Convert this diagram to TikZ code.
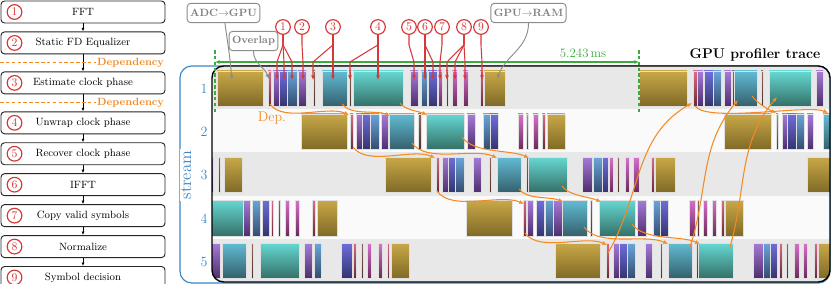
\documentclass[tikz,border=0pt]{standalone}
\usepackage{amsmath}
\usepackage{tikz}
\usetikzlibrary{arrows.meta,positioning,calc}

\definecolor{numred}{HTML}{D63838}
\definecolor{deporange}{HTML}{F48A24}
\definecolor{streamblue}{HTML}{3A86C6}
\definecolor{durgreen}{HTML}{3CAA3C}
\definecolor{rowgrey}{HTML}{E8E8E8}
\definecolor{rowlight}{HTML}{FAFAFA}
\definecolor{goldT}{HTML}{C9A848}\definecolor{goldB}{HTML}{806A26}
\definecolor{purpT}{HTML}{A77BD8}\definecolor{purpB}{HTML}{4E2E6E}
\definecolor{bpurT}{HTML}{6E6EDC}\definecolor{bpurB}{HTML}{343472}
\definecolor{steelT}{HTML}{6AA6DA}\definecolor{steelB}{HTML}{344C70}
\definecolor{tblueT}{HTML}{62BCD4}\definecolor{tblueB}{HTML}{34606C}
\definecolor{tealT}{HTML}{66D8D2}\definecolor{tealB}{HTML}{347068}
\definecolor{magT}{HTML}{D870CC}\definecolor{magB}{HTML}{6A2A5A}
\definecolor{pinkT}{HTML}{E06A88}\definecolor{pinkB}{HTML}{6A2838}
\definecolor{brownT}{HTML}{8E6A5C}\definecolor{brownB}{HTML}{4E3028}

\tikzset{
  stage/.style={draw=black!85, line width=0.8pt, rounded corners=3pt, fill=white,
    minimum width=4.92cm, minimum height=0.66cm, font=\small},
  num/.style={circle, draw=numred, text=numred, fill=white, line width=1pt,
    inner sep=0pt, minimum size=0.44cm, font=\normalsize},
  stagearr/.style={-{Latex[length=3pt,width=2.5pt]}, line width=0.6pt},
  deptext/.style={text=deporange, font=\small\bfseries, inner sep=1pt},
  depline/.style={draw=deporange, line width=1pt, dash pattern=on 3pt off 2pt},
  dep/.style={draw=deporange, line width=0.9pt, ->, out=-55, in=155, looseness=0.75},
  wrap/.style={draw=deporange, line width=0.9pt, ->},
  callout/.style={draw=black!45, text=black!50, fill=white, line width=0.8pt,
    rounded corners=3pt, font=\small\bfseries, inner sep=2.5pt, minimum height=0.58cm},
  callarr/.style={draw=black!45, line width=0.8pt, ->},
  kred/.style={draw=numred, line width=0.9pt, ->},
  gdash/.style={draw=durgreen, line width=1pt, dash pattern=on 3pt off 2pt},
  bar/.style={draw=black!12, line width=0.3pt},
  kgold/.style={bar, top color=goldT, bottom color=goldB},
  kpurp/.style={bar, top color=purpT, bottom color=purpB},
  kbpur/.style={bar, top color=bpurT, bottom color=bpurB},
  ksteel/.style={bar, top color=steelT, bottom color=steelB},
  ktblue/.style={bar, top color=tblueT, bottom color=tblueB},
  kteal/.style={bar, top color=tealT, bottom color=tealB},
  kmag/.style={bar, top color=magT, bottom color=magB},
  kpink/.style={bar, top color=pinkT, bottom color=pinkB},
  kbrown/.style={bar, top color=brownT, bottom color=brownB},
}

\begin{document}
\begin{tikzpicture}[x=0.03cm, y=-0.03cm, >={Latex[length=4pt,width=3.5pt]}, every node/.style={font=\small}]
\useasboundingbox (0,0) rectangle (831,284);

% pipeline stages
\node[stage] (fft) at (83,12) {FFT};
\node[stage, below=0.24cm of fft] (sfde) {Static FD Equalizer};
\node[stage, below=0.51cm of sfde] (est) {Estimate clock phase};
\node[stage, below=0.51cm of est] (unw) {Unwrap clock phase};
\node[stage, below=0.24cm of unw] (rec) {Recover clock phase};
\node[stage, below=0.24cm of rec] (ifft) {IFFT};
\node[stage, below=0.24cm of ifft] (copy) {Copy valid symbols};
\node[stage, below=0.24cm of copy] (norm) {Normalize};
\node[stage, below=0.24cm of norm] (dec) {Symbol decision};

\foreach \s [count=\i] in {fft,sfde,est,unw,rec,ifft,copy,norm,dec}
  \node[num] (n\i) at ([xshift=0.42cm]\s.west) {\i};
\foreach \a/\b in {fft/sfde,sfde/est,est/unw,unw/rec,rec/ifft,ifft/copy,copy/norm,norm/dec}
  \draw[stagearr] (\a) -- (\b);

\coordinate (lft) at (0,0);
\coordinate (dep1) at ($(sfde.south)!0.5!(est.north)$);
\coordinate (dep2) at ($(est.south)!0.5!(unw.north)$);
\node[deptext, anchor=east] (dl1) at (dep1 -| sfde.east) {Dependency};
\node[deptext, anchor=east] (dl2) at (dep2 -| est.east) {Dependency};
\draw[depline] (dep1 -| lft) -- (dl1.west);
\draw[depline] (dep2 -| lft) -- (dl2.west);

% streams
\draw[streamblue, line width=1pt, rounded corners=10pt] (180,66) rectangle (830,283);
\node[text=streamblue, font=\Large, fill=white, inner sep=1pt, rotate=90] (stream) at (186,175) {stream};
\foreach \i in {1,...,5}
  \node[text=streamblue, font=\large] (s\i) at (204,{89+43.2*(\i-1)}) {\i};

\begin{scope}
\clip[rounded corners=10pt] (212,66) rectangle (830,282);
\fill[white] (212,66) rectangle (830,282);
\foreach \i in {1,3,5}
  \fill[rowgrey] (212,{66+43.2*(\i-1)}) rectangle (830,{66+43.2*\i});
\foreach \i in {2,4}
  \fill[rowlight] (212,{66+43.2*(\i-1)}) rectangle (830,{66+43.2*\i});
% stream 1
\foreach \a/\b/\k in {217/263/kgold, 268/271/kpink, 273/279/kpurp, 279/287/kbpur, 287/297/ksteel,
  298/306/kpurp, 313/315/kbrown, 322/347/ktblue, 349/351/kbrown, 353/403/kteal, 410/418/kpurp,
  421/427/ksteel, 428/437/kbpur, 438/442/kmag, 446/448/kbrown, 452/457/kmag, 463/468/kmag,
  480/483/kpink, 484/505/kgold, 639/687/kgold, 693/697/kpink, 697/703/kpurp, 704/713/kbpur,
  713/721/ksteel, 724/731/kpurp, 732/734/kbrown, 734/757/ktblue, 761/763/kbrown, 769/811/kteal,
  816/823/kpurp}
  \path[\k] (\a,71) rectangle (\b,106);
% stream 2
\foreach \a/\b/\k in {301/347/kgold, 350/353/kpink, 356/362/kpurp, 362/370/kbpur, 370/379/ksteel,
  381/388/kpurp, 389/414/ktblue, 418/421/kbrown, 426/464/kteal, 467/475/kpurp, 483/490/ksteel,
  490/498/kbpur, 518/523/kmag, 526/528/kmag, 533/538/kmag, 542/545/kpink, 547/565/kgold,
  724/771/kgold, 776/778/kpink, 782/787/kpurp, 787/796/kbpur, 796/804/ksteel, 807/813/kpurp,
  823/832/ktblue}
  \path[\k] (\a,114) rectangle (\b,149);
% stream 3
\foreach \a/\b/\k in {205/213/kpurp, 218/220/kbrown, 224/242/kgold, 385/431/kgold, 436/439/kpink,
  442/448/kpurp, 448/455/kbpur, 455/464/ksteel, 473/481/kpurp, 489/491/kbrown, 497/521/ktblue,
  526/528/kbrown, 528/567/kteal, 582/592/kpurp, 593/602/ksteel, 602/608/kbpur, 609/613/kmag,
  617/619/kbrown, 625/629/kmag, 633/639/kmag, 651/654/kpink, 655/675/kgold, 807/832/kgold}
  \path[\k] (\a,157) rectangle (\b,192);
% stream 4
\foreach \a/\b/\k in {205/243/kteal, 243/250/kpurp, 252/260/ksteel, 262/269/kbpur, 271/273/kpink,
  278/280/kbrown, 285/289/kmag, 295/299/kmag, 312/315/kpink, 317/337/kgold, 466/512/kgold,
  523/526/kpink, 527/533/kpurp, 536/544/kbpur, 545/553/ksteel, 553/562/kpurp, 562/587/ktblue,
  590/592/kbrown, 599/635/kteal, 637/646/kpurp, 653/660/ksteel, 660/668/kbpur, 689/695/kmag,
  697/699/kbrown, 703/707/kmag, 712/716/kmag, 721/724/kpink, 725/743/kgold}
  \path[\k] (\a,200) rectangle (\b,236);
% stream 5
\foreach \a/\b/\k in {205/220/kpurp, 222/246/ktblue, 251/253/kbrown, 260/299/kteal, 304/312/kpurp,
  314/321/ksteel, 341/352/kbpur, 353/356/kpink, 361/363/kbrown, 367/371/kmag, 378/382/kmag,
  387/389/kpink, 391/409/kgold, 555/600/kgold, 606/609/kpink, 613/619/kpurp, 619/627/kbpur,
  627/635/ksteel, 645/652/kpurp, 660/662/kbrown, 668/692/ktblue, 696/698/kbrown, 698/733/kteal,
  753/763/kpurp, 763/770/ksteel, 770/777/kbpur, 779/782/kpink, 786/788/kbrown, 794/799/kmag,
  803/807/kmag, 814/817/kpink, 818/832/kgold}
  \path[\k] (\a,243) rectangle (\b,278);
\end{scope}
\draw[line width=1.2pt, rounded corners=10pt] (212,66) rectangle (830,282);

\node[font=\large\bfseries] (title) at (755,55) {GPU profiler trace};

% duration of one frame
\coordinate (gA) at (215,50);
\coordinate (gAb) at (215,113);
\coordinate (gB) at (639,50);
\coordinate (gBb) at (639,113);
\draw[gdash] (gA) -- (gAb);
\draw[gdash] (gB) -- (gBb);
\draw[draw=durgreen, line width=1pt, <->] (gA |- 0,62) -- (gB |- 0,62);
\node[text=durgreen, font=\fontsize{11pt}{13pt}\selectfont] (dur) at (583,53) {5.243\,ms};

% copies
\node[callout] (adc) at (223.5,13) {ADC$\rightarrow$GPU};
\node[callout] (ovl) at (253.5,41) {Overlap};
\node[callout] (ram) at (528.5,13) {GPU$\rightarrow$RAM};
\coordinate (adcT) at (232,80);
\coordinate (ovlT) at (269,79);
\coordinate (ramT) at (497,79);
\draw[callarr] (adc) to[out=-82, in=95] (adcT);
\draw[callarr] (ovl) to[out=-90, in=110] (ovlT);
\draw[callarr] (ram) to[out=-90, in=70] (ramT);

% kernels of stream 1
\foreach \x [count=\i] in {283,302,333,378,409,425,442,464,481}
  \node[num] (c\i) at (\x,27) {\i};
\foreach \n/\x in {t1a/277, t1b/284, t1c/292, t2/303, t3a/313, t3b/333, t4a/350, t4b/378,
  t5/414, t6a/425, t6b/433, t7/440, t8a/447, t8b/455, t8c/465, t9/482}
  \coordinate (\n) at (\x,80);
\foreach \c/\t in {c1/t1a, c1/t1b, c1/t1c, c2/t2, c3/t3a, c3/t3b, c4/t4a, c4/t4b, c5/t5,
  c6/t6a, c6/t6b, c7/t7, c8/t8a, c8/t8b, c8/t8c, c9/t9}
  \draw[kred] (\c.south) -- ++(0,10) -- (\t |- 0,62) -- (\t);

% dependencies
\node[text=deporange, font=\large] (deplbl) at (272,118) {Dep.};
\foreach \i/\sx/\sy/\ex/\ey in {1/270/104/349/115, 2/342/104/390/116, 3/400/103/427/115,
  4/353/147/435/158, 5/412/143/497/158, 6/462/137/529/158, 7/437/191/524/204,
  8/519/189/563/202, 9/562/186/601/202, 10/525/233/607/245, 11/584/227/668/244,
  12/632/224/700/244, 13/752/96/776/113} {
  \coordinate (ds\i) at (\sx,\sy);
  \coordinate (de\i) at (\ex,\ey);
  \draw[dep] (ds\i) to (de\i);
}
\coordinate (ds14) at (695,106);
\coordinate (de14) at (828,113);
\draw[dep, looseness=0.4] (ds14) to (de14);

\coordinate (ws1) at (608,253);
\coordinate (we1) at (692,103);
\coordinate (ws2) at (690,247);
\coordinate (we2) at (738,100);
\coordinate (ws3) at (730,247);
\coordinate (we3) at (777,97);
\draw[wrap] (ws1) to[out=60, in=-150] (we1);
\draw[wrap] (ws2) to[out=72, in=-130] (we2);
\draw[wrap] (ws3) to[out=74, in=-130] (we3);
\end{tikzpicture}
\end{document}
